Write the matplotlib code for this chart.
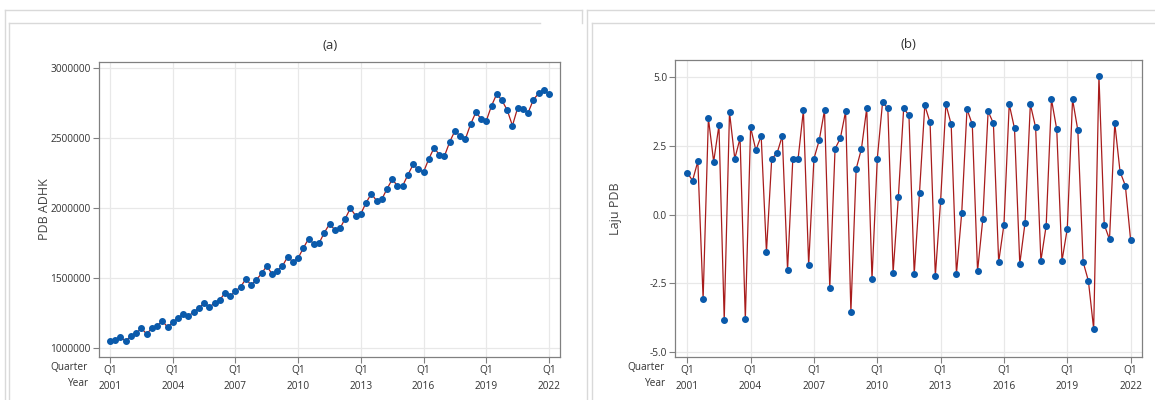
import matplotlib.pyplot as plt
import numpy as np

# Quarterly data 2001Q1 - 2022Q1
pdb_adhk = [1047800, 1055000, 1074000, 1048000, 1083000, 1103000, 1139000, 1098000, 1139000, 1155000,
            1191000, 1148000, 1181000, 1212000, 1240000, 1226000, 1255000, 1283000, 1319000, 1290000,
            1319000, 1340000, 1393000, 1369000, 1403000, 1436000, 1491000, 1448000, 1484000, 1531000,
            1584000, 1526000, 1550000, 1584000, 1650000, 1612000, 1641000, 1712000, 1779000, 1741000,
            1746000, 1822000, 1883000, 1843000, 1853000, 1922000, 1996000, 1943000, 1957000, 2036000,
            2100000, 2050000, 2060000, 2135000, 2202000, 2157000, 2157000, 2235000, 2309000, 2273000,
            2256000, 2349000, 2427000, 2380000, 2370000, 2470000, 2550000, 2510000, 2491000, 2597000,
            2681000, 2636000, 2621000, 2728000, 2813000, 2766000, 2697000, 2586000, 2714000, 2707000,
            2678000, 2771000, 2816000, 2842000, 2813000]

laju_pdb = [1.53, 1.24, 1.94, -3.07, 3.51, 1.93, 3.25, -3.83, 3.73, 2.04,
            2.78, -3.80, 3.18, 2.34, 2.87, -1.36, 2.04, 2.23, 2.87, -2.01,
            2.04, 2.04, 3.80, -1.83, 2.04, 2.71, 3.80, -2.67, 2.40, 2.78,
            3.76, -3.54, 1.67, 2.40, 3.87, -2.34, 2.04, 4.09, 3.87, -2.11,
            0.66, 3.87, 3.62, -2.16, 0.80, 3.98, 3.36, -2.23, 0.51, 4.02,
            3.29, -2.16, 0.07, 3.84, 3.29, -2.05, -0.15, 3.76, 3.33, -1.72,
            -0.36, 4.02, 3.14, -1.79, -0.29, 4.02, 3.18, -1.68, -0.40, 4.20,
            3.11, -1.68, -0.51, 4.20, 3.07, -1.72, -2.41, -4.16, 5.04, -0.36,
            -0.90, 3.33, 1.56, 1.06, -0.92]

tick_years = [2001, 2004, 2007, 2010, 2013, 2016, 2019, 2022]
pdb_ticks = [1000000, 1500000, 2000000, 2500000, 3000000]
laju_ticks = [-5.0, -2.5, 0.0, 2.5, 5.0]

plt.rcParams['font.family'] = ['Open Sans', 'DejaVu Sans']
plt.rcParams['axes.unicode_minus'] = False

W, H = 1155, 400
fig = plt.figure(figsize=(W / 100, H / 100), dpi=100)
txt = '#333333'


def px(x0, y0, x1, y1):
    # pixel box -> figure fraction rect
    return [x0 / W, 1 - y1 / H, (x1 - x0) / W, (y1 - y0) / H]


# document frames around the two graphs
for xs, ys in [([5, 5], [10, 400]), ([5, 582], [10, 10]), ([582, 582], [10, 23]),
               ([9, 9], [23, 400]), ([9, 540], [23, 23]),
               ([587, 587], [10, 400]), ([587, 1155], [10, 10]),
               ([592, 592], [23, 400]), ([592, 1155], [23, 23])]:
    fig.add_artist(plt.Line2D([x / W for x in xs], [1 - y / H for y in ys],
                              color='#d9d9d9', lw=1))

quarters = np.arange(len(pdb_adhk))
tick_pos = [(y - 2001) * 4 for y in tick_years]
tick_lab = [f'Q1\n{y}' for y in tick_years]


def style(ax, xlim):
    ax.set_xlim(*xlim)
    ax.set_xticks(tick_pos)
    ax.set_xticklabels(tick_lab, linespacing=1.6)
    ax.grid(True, color='#e8e8e8', lw=0.9)
    ax.set_axisbelow(True)
    for s in ax.spines.values():
        s.set_color('#808080')
        s.set_linewidth(0.9)
    ax.tick_params(colors='#808080', labelcolor=txt, labelsize=7.3, length=4, width=0.8, pad=2)


# (a)
ax1 = fig.add_axes(px(99.3, 61.7, 560, 356.7))
ax1.plot(quarters, pdb_adhk, color='#a81c1c', lw=0.9, marker='o', ms=4.0,
         mfc='#0a5aab', mec='#0a5aab', zorder=3)
style(ax1, (-2.05, 86.1))
ax1.set_ylim(935700, 3042900)
ax1.set_yticks(pdb_ticks)
ax1.set_yticklabels([str(v) for v in pdb_ticks])
ax1.set_ylabel('PDB ADHK', fontsize=9, color='#444444', labelpad=0)
ax1.set_title('(a)', fontsize=9.5, color=txt, pad=9)
fig.text(88 / W, 1 - 368 / H, 'Quarter', ha='right', va='center', fontsize=7.3, color=txt)
fig.text(88 / W, 1 - 384 / H, 'Year', ha='right', va='center', fontsize=7.3, color=txt)

# (b)
ax2 = fig.add_axes(px(675.3, 60.3, 1141.7, 356.7))
ax2.plot(quarters, laju_pdb, color='#a81c1c', lw=0.9, marker='o', ms=4.0,
         mfc='#0a5aab', mec='#0a5aab', zorder=3)
style(ax2, (-2.27, 86.1))
ax2.set_ylim(-5.17, 5.62)
ax2.set_yticks(laju_ticks)
ax2.set_yticklabels([f'{v:.1f}' for v in laju_ticks])
ax2.set_ylabel('Laju PDB', fontsize=9, color='#444444', labelpad=20)
ax2.set_title('(b)', fontsize=9.5, color=txt, pad=9)
fig.text(665 / W, 1 - 368 / H, 'Quarter', ha='right', va='center', fontsize=7.3, color=txt)
fig.text(665 / W, 1 - 384 / H, 'Year', ha='right', va='center', fontsize=7.3, color=txt)

fig.savefig('out.png', dpi=100)
